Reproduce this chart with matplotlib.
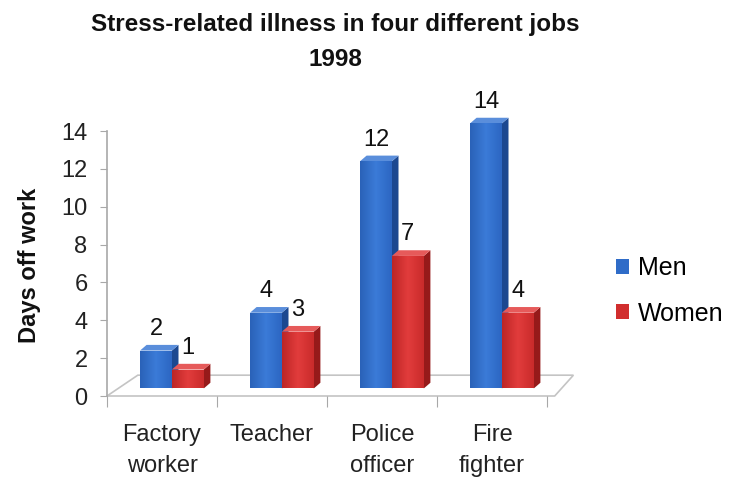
import numpy as np
import matplotlib.pyplot as plt
from matplotlib.patches import Polygon, Patch
from matplotlib.colors import LinearSegmentedColormap

jobs = ["Factory\nworker", "Teacher", "Police\nofficer", "Fire\nfighter"]
men = [2, 4, 12, 14]
women = [1, 3, 7, 4]
series = ["Men", "Women"]
yticks = [0, 2, 4, 6, 8, 10, 12, 14]

plt.rcParams['font.family'] = ['Liberation Sans', 'DejaVu Sans']

fig = plt.figure(figsize=(7.4, 4.86), dpi=100)
ax = fig.add_axes([107/740, 90/486, 473/740, 265/486])

# colours: front gradient (3 stops), side, top, legend
cols = {
    "Men": (["#2a62b8", "#3b7bd8", "#2c66c2"], "#1c4890", "#5a8edb", "#2f6cc8"),
    "Women": (["#bd2626", "#e23c3c", "#c92b2b"], "#961a1a", "#e65a5a", "#d12e2e"),
}

x = np.arange(len(jobs))
w = 0.29
base = 0.4
dx, dy = 0.06, 0.3

# floor of the 3d box
floor = Polygon([(-0.5, 0), (3.57, 0), (3.74, 1.1), (-0.22, 1.1)],
                closed=True, facecolor="white", edgecolor="#c4c4c4",
                lw=1.2, zorder=1, clip_on=False)
ax.add_patch(floor)


def bar3d(xs, vals, off, name):
    front, side, top, _ = cols[name]
    cmap = LinearSegmentedColormap.from_list(name, front)
    grad = np.linspace(0, 1, 64).reshape(1, -1)
    rects = ax.bar(xs + off, vals, w, bottom=base, align="edge",
                   color=front[1], zorder=3, lw=0, clip_on=False)
    for r, v in zip(rects, vals):
        x0, y0 = r.get_x(), r.get_y()
        x1, y1 = x0 + r.get_width(), y0 + r.get_height()
        im = ax.imshow(grad, extent=[x0, x1, y0, y1], cmap=cmap,
                       aspect="auto", zorder=3.1, interpolation="bilinear")
        im.set_clip_box(fig.bbox)
        im.set_clip_path(r)
        ax.add_patch(Polygon([(x1, y0), (x1 + dx, y0 + dy), (x1 + dx, y1 + dy), (x1, y1)],
                             closed=True, facecolor=side, lw=0, zorder=3, clip_on=False))
        ax.add_patch(Polygon([(x0, y1), (x1, y1), (x1 + dx, y1 + dy), (x0 + dx, y1 + dy)],
                             closed=True, facecolor=top, lw=0, zorder=3, clip_on=False))
        ax.text((x0 + x1) / 2, y1 + 1.15, str(v), ha="center", va="center",
                fontsize=17, color="#111111", zorder=5)


bar3d(x, men, -0.2, "Men")
bar3d(x, women, 0.09, "Women")

ax.set_xlim(-0.5, 3.8)
ax.set_ylim(0, 14)

for s in ["top", "right", "bottom"]:
    ax.spines[s].set_visible(False)
ax.spines["left"].set_color("#a8a8a8")
ax.spines["left"].set_linewidth(1.2)

ax.set_yticks(yticks)
ax.set_yticklabels([str(t) for t in yticks], fontsize=17, color="#222222")
ax.tick_params(axis="y", direction="out", length=5, color="#a8a8a8", pad=9)

ax.set_xticks([-0.5, 0.5, 1.5, 2.5, 3.5])
ax.set_xticklabels([])
ax.tick_params(axis="x", which="major", direction="out", length=8, color="#a8a8a8")
ax.set_xticks(x, minor=True)
ax.set_xticklabels(jobs, minor=True, fontsize=17, color="#222222", linespacing=1.55)
ax.tick_params(axis="x", which="minor", length=0, pad=20)

fig.text(335/740, 1 - 24/486, "Stress-related illness in four different jobs",
         ha="center", va="center", fontsize=17.5, fontweight="bold", color="#111111")
fig.text(335/740, 1 - 59/486, "1998",
         ha="center", va="center", fontsize=17.5, fontweight="bold", color="#111111")
fig.text(30/740, 1 - 265/486, "Days off work", rotation=90,
         ha="center", va="center", fontsize=17, fontweight="bold", color="#111111")

handles = [Patch(facecolor=cols[n][3], edgecolor="none") for n in series]
fig.legend(handles, series, loc="center left", bbox_to_anchor=(593/740, 1 - 291/486),
           frameon=False, fontsize=18, handlelength=0.55, handleheight=0.55,
           handletextpad=0.35, labelspacing=0.85)

fig.savefig("out.png", dpi=100)
